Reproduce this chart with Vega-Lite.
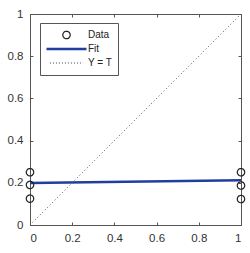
{
  "$schema": "https://vega.github.io/schema/vega-lite/v6.json",
  "width": 211,
  "height": 211,
  "autosize": "none",
  "padding": {"left": 30, "top": 14, "right": 9, "bottom": 28},
  "background": "white",
  "config": {
    "view": {"stroke": "#555", "strokeWidth": 1},
    "font": "Liberation Sans",
    "axis": {"grid": false, "domainColor": "#555", "tickColor": "#555", "labelColor": "#333", "labelFontSize": 11.5, "labelFont": "Liberation Sans", "title": null}
  },
  "data": {
    "values": [
      {"x": 0, "y": 0.25, "series": "Data"},
      {"x": 0, "y": 0.19, "series": "Data"},
      {"x": 0, "y": 0.125, "series": "Data"},
      {"x": 1, "y": 0.25, "series": "Data"},
      {"x": 1, "y": 0.187, "series": "Data"},
      {"x": 1, "y": 0.123, "series": "Data"},
      {"x": 0, "y": 0.199, "series": "Fit"},
      {"x": 1, "y": 0.212, "series": "Fit"},
      {"x": 0, "y": 0, "series": "Y = T"},
      {"x": 1, "y": 1, "series": "Y = T"}
    ]
  },
  "layer": [
    {
      "transform": [{"filter": "datum.series === 'Y = T'"}],
      "mark": {"type": "line", "color": "#555", "strokeWidth": 1, "strokeDash": [1, 2.5]},
      "encoding": {
        "x": {"field": "x", "type": "quantitative", "scale": {"domain": [0, 1], "nice": false}, "axis": {"orient": "top", "labels": false, "values": [0, 0.2, 0.4, 0.6, 0.8, 1], "tickSize": -3, "domain": false}},
        "y": {"field": "y", "type": "quantitative", "scale": {"domain": [0, 1], "nice": false}, "axis": {"orient": "right", "labels": false, "values": [0, 0.2, 0.4, 0.6, 0.8, 1], "tickSize": -3, "domain": false}}
      }
    },
    {
      "transform": [{"filter": "datum.series === 'Fit'"}],
      "mark": {"type": "line", "color": "#1f3e9e", "strokeWidth": 2.5},
      "encoding": {
        "x": {"field": "x", "type": "quantitative", "scale": {"domain": [0, 1], "nice": false}, "axis": {"orient": "bottom", "values": [0, 0.2, 0.4, 0.6, 0.8, 1], "format": ".1~f", "tickSize": -3, "labelPadding": 10, "domain": false}},
        "y": {"field": "y", "type": "quantitative", "scale": {"domain": [0, 1], "nice": false}, "axis": {"orient": "left", "values": [0, 0.2, 0.4, 0.6, 0.8, 1], "format": ".1~f", "tickSize": -3, "labelPadding": 10, "domain": false}}
      }
    },
    {
      "transform": [{"filter": "datum.series === 'Data'"}],
      "mark": {"type": "point", "filled": false, "opacity": 1},
      "encoding": {
        "x": {"field": "x", "type": "quantitative", "axis": null},
        "y": {"field": "y", "type": "quantitative", "axis": null},
        "shape": {
          "field": "series",
          "type": "nominal",
          "scale": {"domain": ["Data", "Fit", "Y = T"], "range": ["circle", "M-1,0L1,0", "M-1,0L1,0"]},
          "legend": {
            "title": null,
            "orient": "none",
            "legendX": 10,
            "legendY": 9,
            "fillColor": "white",
            "strokeColor": "#555",
            "padding": 5,
            "clipHeight": 14,
            "rowPadding": 0,
            "labelOffset": 0,
            "labelFontSize": 10,
            "labelColor": "#222",
            "labelFont": "Liberation Sans",
            "symbolOpacity": 1
          }
        },
        "size": {
          "field": "series",
          "type": "nominal",
          "scale": {"type": "ordinal", "domain": ["Data", "Fit", "Y = T"], "range": [55, 1600, 1100]},
          "legend": {"title": null}
        },
        "color": {
          "field": "series",
          "type": "nominal",
          "scale": {"domain": ["Data", "Fit", "Y = T"], "range": ["#222222", "#1f3e9e", "#444444"]},
          "legend": {"title": null}
        },
        "strokeWidth": {
          "field": "series",
          "type": "nominal",
          "scale": {"type": "ordinal", "domain": ["Data", "Fit", "Y = T"], "range": [1.2, 2.5, 1]},
          "legend": {"title": null}
        },
        "strokeDash": {
          "field": "series",
          "type": "nominal",
          "scale": {"domain": ["Data", "Fit", "Y = T"], "range": [[1, 0], [1, 0], [1, 2]]},
          "legend": {"title": null}
        }
      }
    }
  ],
  "resolve": {"axis": {"x": "independent", "y": "independent"}}
}
